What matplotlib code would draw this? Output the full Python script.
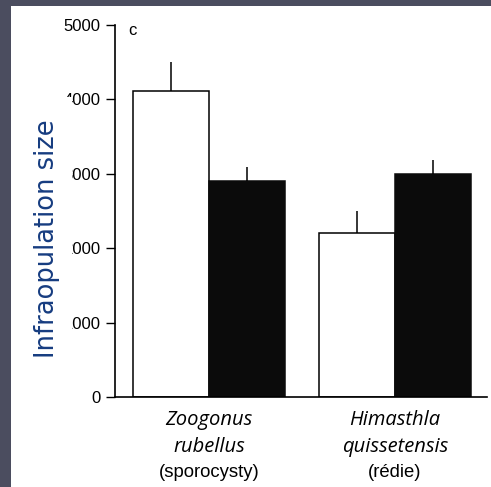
import matplotlib.pyplot as plt
import numpy as np
from matplotlib.patches import Rectangle

genus = ["Zoogonus", "Himasthla"]
species = ["rubellus", "quissetensis"]
stage = ["(sporocysty)", "(rédie)"]

open_means = [4110, 2200]
open_err = [390, 300]
filled_means = [2900, 3000]
filled_err = [190, 190]

yticks = [0, 1000, 2000, 3000, 4000, 5000]

W, H = 491, 487
fig = plt.figure(figsize=(W / 100, H / 100), dpi=100)
fig.patch.set_facecolor("#4b4d5f")
fig.patches.append(Rectangle((11 / W, 0), 1, 1 - 6 / H, transform=fig.transFigure,
                             facecolor="white", edgecolor="none", zorder=-5))

ax = fig.add_axes([115 / W, 1 - 397 / H, 372 / W, 372 / H])
ax.set_facecolor("none")

x = np.arange(len(genus))
w = 0.41
ax.bar(x - w / 2, open_means, w, color="white", edgecolor="black", linewidth=1.1, zorder=2)
ax.bar(x + w / 2, filled_means, w, color="#0b0b0b", edgecolor="#0b0b0b", linewidth=1.1, zorder=2)
ax.errorbar(x - w / 2, open_means, yerr=[[0, 0], open_err], fmt="none",
            ecolor="black", elinewidth=1.1, capsize=0, zorder=3)
ax.errorbar(x + w / 2, filled_means, yerr=[[0, 0], filled_err], fmt="none",
            ecolor="black", elinewidth=1.1, capsize=0, zorder=3)

ax.set_xlim(-0.505, 1.495)
ax.set_ylim(0, 5000)
ax.set_yticks(yticks)
ax.set_yticklabels([str(t) for t in yticks], family="Liberation Sans", fontsize=12)
ax.set_xticks([])
ax.tick_params(axis="y", direction="out", length=6.5, width=1, pad=4)
for s in ["top", "right"]:
    ax.spines[s].set_visible(False)
ax.spines["left"].set_linewidth(1.2)
ax.spines["bottom"].set_linewidth(1.2)

ax.text(0.035, 0.985, "c", transform=ax.transAxes, ha="left", va="center",
        family="Liberation Sans", fontsize=12)

tr = ax.get_xaxis_transform()
for i in range(len(genus)):
    ax.text(x[i], -0.061, genus[i], transform=tr, ha="center", va="center",
            family="Open Sans", style="italic", fontsize=14.5)
    ax.text(x[i], -0.134, species[i], transform=tr, ha="center", va="center",
            family="Open Sans", style="italic", fontsize=14.5)
    ax.text(x[i], -0.204, stage[i], transform=tr, ha="center", va="center",
            family="Liberation Sans", fontsize=13.3)

# white block behind the axis title, hiding the leading tick digits
fig.patches.append(Rectangle((20 / W, 1 - 370 / H), 52 / W, 273 / H, transform=fig.transFigure,
                             facecolor="white", edgecolor="none", zorder=5))
fig.text(47 / W, 1 - 239 / H, "Infraopulation size", rotation=90, zorder=6,
         ha="center", va="center", color="#163c80", family="DejaVu Sans", fontsize=18.5)

fig.savefig("out.png", dpi=100, facecolor=fig.get_facecolor())
